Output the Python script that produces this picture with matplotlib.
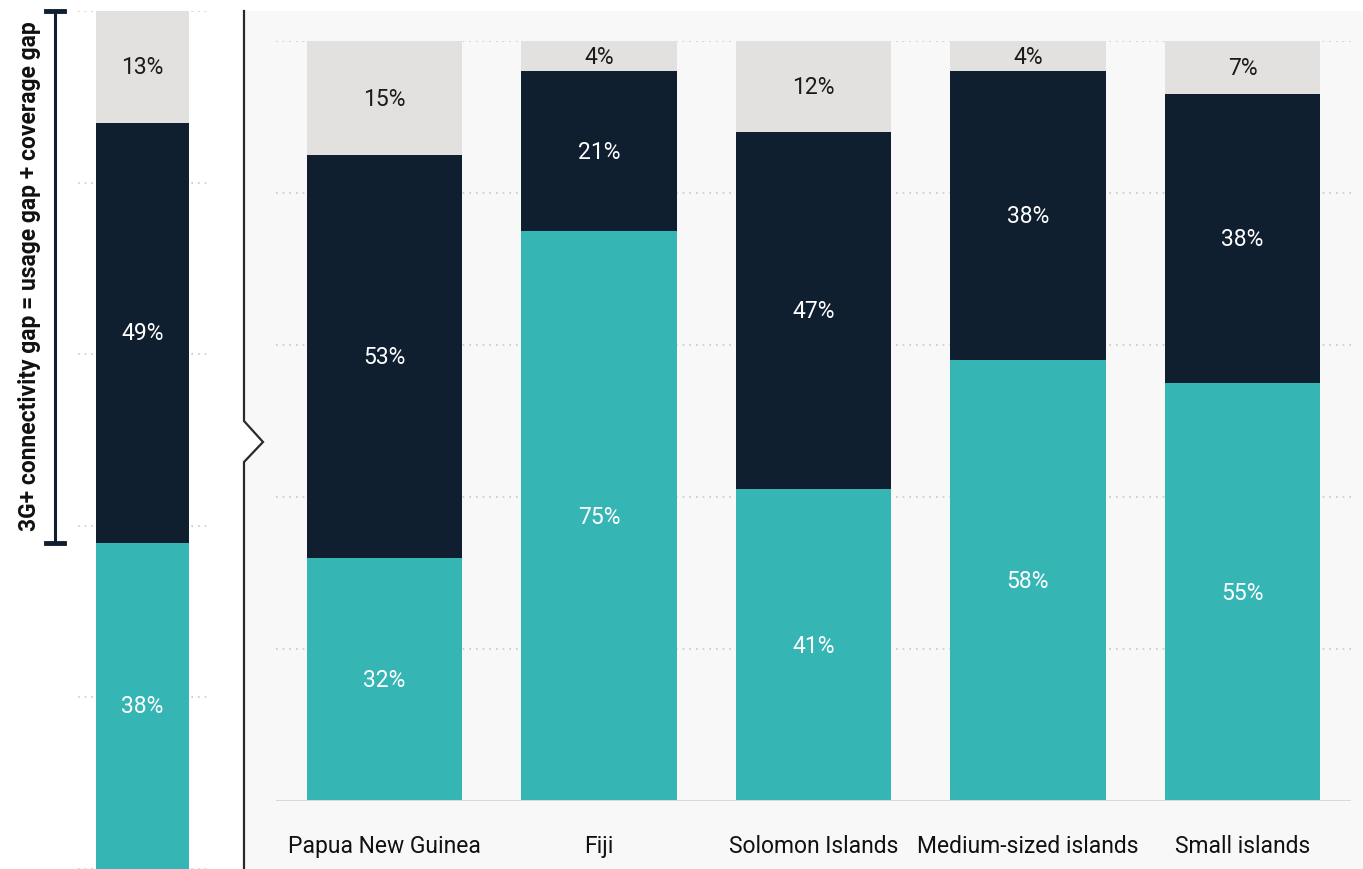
import matplotlib
matplotlib.use("Agg")
import matplotlib.pyplot as plt
from matplotlib.patches import Polygon
from matplotlib.lines import Line2D
import matplotlib.transforms as mtransforms

# ---- data -------------------------------------------------------------
categories = ["Papua New Guinea", "Fiji", "Solomon Islands",
              "Medium-sized islands", "Small islands"]
connected = [32, 75, 41, 58, 55]      # bottom segment (teal)
usage_gap = [53, 21, 47, 38, 38]      # middle segment (navy)
coverage_gap = [15, 4, 12, 4, 7]      # top segment (light grey)

region_connected = 38
region_usage_gap = 49
region_coverage_gap = 13

bracket_label = "3G+ connectivity gap = usage gap + coverage gap"
grid_ticks = [0, 20, 40, 60, 80, 100]

# ---- style ------------------------------------------------------------
TEAL = "#36b5b5"
NAVY = "#0f1f30"
LIGHT = "#e2e1df"
PANEL = "#f8f8f8"
GRID = "#c8c8c8"
FONT = ["Roboto", "DejaVu Sans"]
plt.rcParams["font.family"] = FONT

W, H = 1363, 870
fig = plt.figure(figsize=(W / 100, H / 100), dpi=100, facecolor="white")


def fx(px):
    return px / W


def fy(py):
    return 1 - py / H


# shaded panel behind the country bars, with a notch on its left edge
notch = [(244, 12), (1363, 12), (1363, 870), (244, 870),
         (244, 463), (263, 443), (244, 422)]
fig.patches.append(Polygon([(fx(x), fy(y)) for x, y in notch], closed=True,
                           transform=fig.transFigure, facecolor=PANEL,
                           edgecolor="none", zorder=-5))
edge = [(244, 12), (244, 422), (263, 443), (244, 463), (244, 870)]
fig.add_artist(Line2D([fx(x) for x, _ in edge], [fy(y) for _, y in edge],
                      transform=fig.transFigure, color="#2a2a2a", lw=1.6,
                      solid_joinstyle="miter", zorder=-4))


def style_axes(ax):
    ax.set_facecolor("none")
    ax.set_zorder(2)
    for s in ax.spines.values():
        s.set_visible(False)
    ax.tick_params(left=False, bottom=False, labelleft=False)
    ax.set_ylim(0, 100)
    for t in grid_ticks:
        ax.axhline(t, color=GRID, lw=1.2, ls=(0, (1, 3)), zorder=0)


def seg_label(ax, x, bottom, height, value, color):
    ax.text(x, bottom + height / 2, f"{value}%", ha="center", va="center",
            color=color, fontsize=16.5, zorder=4)


# ---- regional bar (left) ----------------------------------------------
axl = fig.add_axes([fx(78), fy(870), fx(210) - fx(78), fy(12) - fy(870)])
style_axes(axl)
axl.set_xlim(-0.489, 0.511)
bw_l = 0.705
segs_l = [(region_connected, TEAL, "white"),
          (region_usage_gap, NAVY, "white"),
          (region_coverage_gap, LIGHT, "#1a1a1a")]
base = 0
for val, col, tc in segs_l:
    axl.bar(0, val, bottom=base, width=bw_l, color=col, zorder=2)
    seg_label(axl, 0, base, val, val, tc)
    base += val
axl.set_xticks([])

# bracket spanning the usage + coverage gap
br = mtransforms.blended_transform_factory(fig.transFigure, axl.transData)
gap_bottom = region_connected
gap_top = region_connected + region_usage_gap + region_coverage_gap
for artist in [
    Line2D([fx(55), fx(55)], [gap_bottom, gap_top], color=NAVY, lw=2.2),
    Line2D([fx(46), fx(64)], [gap_top, gap_top], color=NAVY, lw=3.5),
    Line2D([fx(46), fx(64)], [gap_bottom, gap_bottom], color=NAVY, lw=3.5),
]:
    artist.set_transform(br)
    artist.set_clip_on(False)
    fig.add_artist(artist)
fig.text(fx(30), fy(276), bracket_label, rotation=90, ha="center",
         va="center", fontsize=16.5, fontweight="semibold", color="#111111")

# ---- country bars (right) ---------------------------------------------
axr = fig.add_axes([fx(276), fy(802), fx(1351) - fx(276), fy(42) - fy(802)])
style_axes(axr)
axr.set_xlim(-0.506, len(categories) - 1 + 0.506)
bw = 0.723
xs = list(range(len(categories)))
axr.bar(xs, connected, width=bw, color=TEAL, zorder=2)
axr.bar(xs, usage_gap, bottom=connected, width=bw, color=NAVY, zorder=2)
tops = [c + u for c, u in zip(connected, usage_gap)]
axr.bar(xs, coverage_gap, bottom=tops, width=bw, color=LIGHT, zorder=2)
for i in xs:
    seg_label(axr, i, 0, connected[i], connected[i], "white")
    seg_label(axr, i, connected[i], usage_gap[i], usage_gap[i], "white")
    seg_label(axr, i, tops[i], coverage_gap[i], coverage_gap[i], "#1a1a1a")
axr.axhline(0, color="#d9d9d9", lw=2.2, zorder=3)
axr.set_xticks(xs)
axr.set_xticklabels(categories, fontsize=16.5, color="#111111")
axr.tick_params(axis="x", pad=20)

fig.savefig("out.png", dpi=100, facecolor="white")
